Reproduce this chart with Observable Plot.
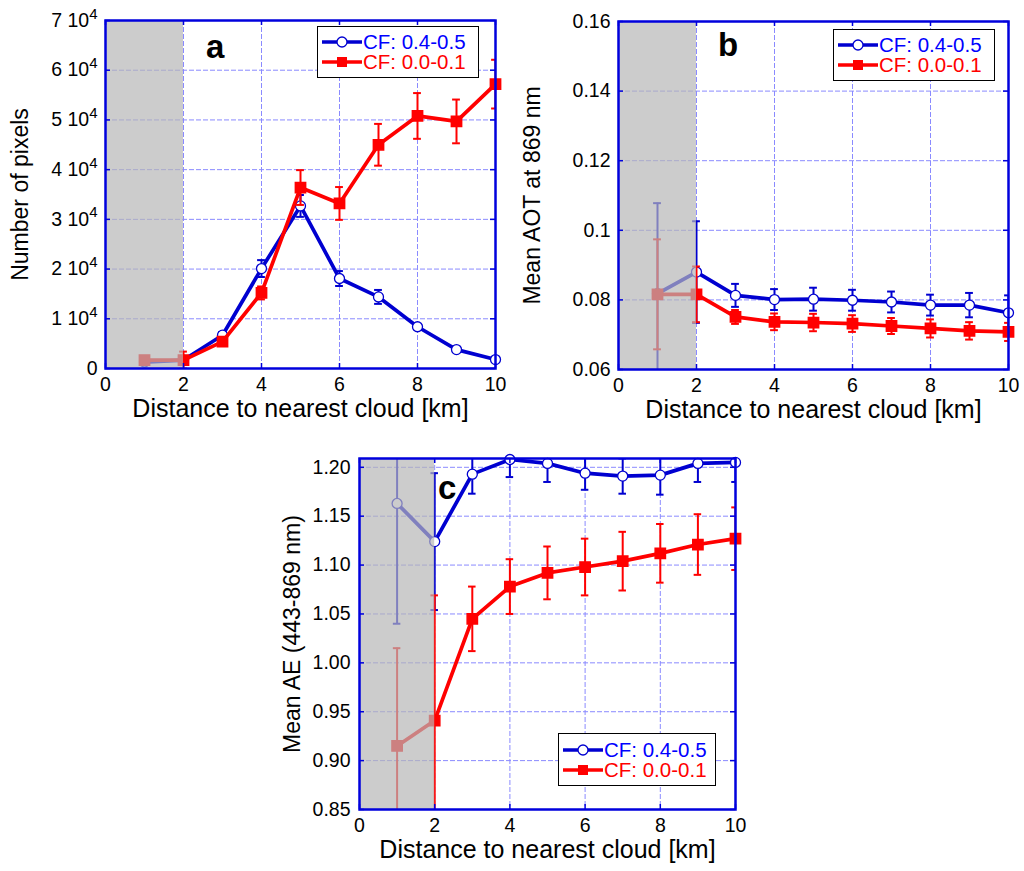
<!DOCTYPE html>
<html>
<head>
<meta charset="utf-8">
<script src="https://cdn.jsdelivr.net/npm/d3@7"></script>
<script src="https://cdn.jsdelivr.net/npm/@observablehq/plot@0.6"></script>
<style>
  html, body { margin: 0; padding: 0; background: #fff; }
  #page { position: relative; width: 1024px; height: 871px; font-family: "Liberation Sans", Arial, sans-serif; }
  .panel { position: absolute; }
  .panel svg { display: block; }
  .letter { position: absolute; font-weight: bold; font-size: 33px; line-height: 1; color: #000; }
  .legend { position: absolute; box-sizing: border-box; border: 1.5px solid #000; background: #fff;
            display: flex; flex-direction: column; justify-content: center; padding-left: 4px; }
  .legend-row { display: flex; align-items: center; height: 20px; line-height: 20px; font-size: 20.5px; }
  .legend-row svg { margin-right: 1px; }
</style>
</head>
<body>
<div id="page"></div>
<script>
// Distance to nearest cloud (km), shared x for all three panels
const distance = [1, 2, 3, 4, 5, 6, 7, 8, 9, 10];
const shaded = [{ from: 0, to: 2 }];
const xTicks = [0, 2, 4, 6, 8, 10];

const seriesNames = ["CF: 0.4-0.5", "CF: 0.0-0.1"];

// Panel a: number of pixels
const pixelsCloudy = [1300, 1700, 6700, 20100, 32700, 18100, 14400, 8400, 3800, 1800];
const pixelsCloudyErr = [300, 400, 600, 1700, 2200, 1500, 1400, 500, 300, 200];
const pixelsClear = [1700, 1700, 5400, 15200, 36400, 33200, 45000, 50800, 49700, 57200];
const pixelsClearErr = [400, 1700, 800, 1300, 3500, 3300, 4200, 4600, 4400, 4900];
const pixelsTicks = [0, 10000, 20000, 30000, 40000, 50000, 60000, 70000];

// Panel b: mean AOT at 869 nm
const aotCloudy = [0.0818, 0.0880, 0.0813, 0.0801, 0.0802, 0.0799, 0.0794, 0.0785, 0.0785, 0.0763];
const aotCloudyErr = [0.026, 0.0146, 0.0033, 0.003, 0.0033, 0.003, 0.003, 0.003, 0.0035, 0.005];
const aotClear = [0.0816, 0.0816, 0.0751, 0.0737, 0.0735, 0.0732, 0.0725, 0.0718, 0.0711, 0.0708];
const aotClearErr = [0.0158, 0.008, 0.002, 0.0024, 0.0025, 0.0024, 0.0023, 0.0026, 0.0025, 0.0026];
const aotTicks = [0.06, 0.08, 0.1, 0.12, 0.14, 0.16];

// Panel c: mean Angstrom exponent (443-869 nm)
const aeCloudy = [1.163, 1.124, 1.193, 1.208, 1.204, 1.194, 1.191, 1.192, 1.204, 1.205];
const aeCloudyErr = [0.123, 0.07, 0.02, 0.018, 0.019, 0.017, 0.018, 0.02, 0.019, 0.02];
const aeClear = [0.915, 0.941, 1.045, 1.078, 1.092, 1.098, 1.104, 1.112, 1.121, 1.127];
const aeClearErr = [0.1, 0.128, 0.033, 0.028, 0.027, 0.029, 0.03, 0.03, 0.031, 0.032];
const aeTicks = [0.85, 0.9, 0.95, 1.0, 1.05, 1.1, 1.15, 1.2];

const BLUE = "#0000d0";
const RED = "#ff0000";
const FRAME = "#0000dd";
const GRID = "#8a8aff";

function rowsOf(vals, errs) {
  return distance.map(function (x, i) {
    return { x: x, y: vals[i], lo: vals[i] - errs[i], hi: vals[i] + errs[i] };
  });
}

// one series = error bars + caps + line + markers
function seriesMarks(rows, color, symbol) {
  const capL = function (d) { return d.x - 0.1; };
  const capR = function (d) { return d.x + 0.1; };
  return [
    Plot.ruleX(rows, { x: "x", y1: "lo", y2: "hi", stroke: color, strokeWidth: 2, clip: true }),
    Plot.ruleY(rows, { y: "hi", x1: capL, x2: capR, stroke: color, strokeWidth: 2, clip: true }),
    Plot.ruleY(rows, { y: "lo", x1: capL, x2: capR, stroke: color, strokeWidth: 2, clip: true }),
    Plot.line(rows, { x: "x", y: "y", stroke: color, strokeWidth: 3.7 }),
    symbol === "circle"
      ? Plot.dot(rows, { x: "x", y: "y", r: 5, stroke: color, strokeWidth: 1.3, fill: "white" })
      : Plot.dot(rows, { x: "x", y: "y", r: 5.8, symbol: "square", fill: color, stroke: color })
  ];
}

function makePanel(cfg) {
  const m = cfg.margin;
  const fw = cfg.width - m.left - m.right;
  const fh = cfg.height - m.top - m.bottom;
  const cloudy = rowsOf(cfg.cloudy, cfg.cloudyErr);
  const clear = rowsOf(cfg.clear, cfg.clearErr);

  const svg = Plot.plot({
    width: cfg.width,
    height: cfg.height,
    marginLeft: m.left,
    marginRight: m.right,
    marginTop: m.top,
    marginBottom: m.bottom,
    style: { background: "transparent", color: "#000", fontFamily: "'Liberation Sans', Arial, sans-serif", overflow: "visible" },
    x: { domain: [0, 10] },
    y: { domain: cfg.yDomain },
    marks: [
      // dashed light-blue grid
      Plot.ruleX(xTicks, { stroke: GRID, strokeWidth: 1, strokeDasharray: "5,2" }),
      Plot.ruleY(cfg.yTicks, { stroke: GRID, strokeWidth: 1, strokeDasharray: "5,2" }),
      ...seriesMarks(cloudy, BLUE, "circle"),
      ...seriesMarks(clear, RED, "square"),
      // grey band over the first 2 km (data there fades under it)
      Plot.rect(shaded, { x1: "from", x2: "to", fill: "#b6b6b6", fillOpacity: 0.7 }),
      // inward ticks on all four sides
      Plot.ruleX(xTicks, { stroke: FRAME, strokeWidth: 1.5, insetTop: fh - 5 }),
      Plot.ruleX(xTicks, { stroke: FRAME, strokeWidth: 1.5, insetBottom: fh - 5 }),
      Plot.ruleY(cfg.yTicks, { stroke: FRAME, strokeWidth: 1.5, insetRight: fw - 5 }),
      Plot.ruleY(cfg.yTicks, { stroke: FRAME, strokeWidth: 1.5, insetLeft: fw - 5 }),
      Plot.frame({ stroke: FRAME, strokeWidth: 2.5 }),
      Plot.axisX(xTicks, { tickSize: 0, tickPadding: 9, fontSize: 19.5, label: null }),
      Plot.axisY(cfg.yTicks, { tickSize: 0, tickPadding: cfg.yPad, fontSize: 19.5, label: null, tickFormat: cfg.yFormat }),
      Plot.text(["Distance to nearest cloud [km]"], {
        text: function (d) { return d; }, frameAnchor: "bottom", lineAnchor: "middle", dy: 40, fontSize: 25
      }),
      Plot.text([cfg.yLabel], {
        text: function (d) { return d; }, frameAnchor: "left", textAnchor: "middle", lineAnchor: "middle",
        rotate: -90, dx: cfg.yLabelOffset, fontSize: 23
      })
    ]
  });

  // turn "n 10⁴" into a real raised exponent
  svg.querySelectorAll("text").forEach(function (t) {
    const s = t.textContent;
    if (s.indexOf("\u2074") >= 0) {
      t.textContent = s.replace("\u2074", "");
      const sup = document.createElementNS("http://www.w3.org/2000/svg", "tspan");
      sup.setAttribute("dy", "-0.55em");
      sup.setAttribute("font-size", "15");
      sup.textContent = "4";
      t.appendChild(sup);
    }
  });

  const div = document.createElement("div");
  div.className = "panel";
  div.style.left = cfg.left + "px";
  div.style.top = cfg.top + "px";
  div.style.width = cfg.width + "px";
  div.style.height = cfg.height + "px";
  div.appendChild(svg);

  const letter = document.createElement("div");
  letter.className = "letter";
  letter.textContent = cfg.letter;
  letter.style.left = cfg.letterPos[0] + "px";
  letter.style.top = cfg.letterPos[1] + "px";
  div.appendChild(letter);

  // legend box
  const lg = document.createElement("div");
  lg.className = "legend";
  lg.style.left = cfg.legendPos[0] + "px";
  lg.style.top = cfg.legendPos[1] + "px";
  lg.style.width = cfg.legendPos[2] + "px";
  lg.style.height = cfg.legendPos[3] + "px";
  [[BLUE, "circle", "#0000ff"], [RED, "square", RED]].forEach(function (s, i) {
    const row = document.createElement("div");
    row.className = "legend-row";
    const ns = "http://www.w3.org/2000/svg";
    const sw = document.createElementNS(ns, "svg");
    sw.setAttribute("width", 40);
    sw.setAttribute("height", 14);
    const ln = document.createElementNS(ns, "line");
    ln.setAttribute("x1", 0); ln.setAttribute("x2", 40);
    ln.setAttribute("y1", 7); ln.setAttribute("y2", 7);
    ln.setAttribute("stroke", s[0]); ln.setAttribute("stroke-width", 3.7);
    sw.appendChild(ln);
    let mk;
    if (s[1] === "circle") {
      mk = document.createElementNS(ns, "circle");
      mk.setAttribute("cx", 20); mk.setAttribute("cy", 7); mk.setAttribute("r", 5);
      mk.setAttribute("fill", "white"); mk.setAttribute("stroke", s[0]); mk.setAttribute("stroke-width", 1.3);
    } else {
      mk = document.createElementNS(ns, "rect");
      mk.setAttribute("x", 15); mk.setAttribute("y", 2); mk.setAttribute("width", 10); mk.setAttribute("height", 10);
      mk.setAttribute("fill", s[0]);
    }
    sw.appendChild(mk);
    row.appendChild(sw);
    const t = document.createElement("span");
    t.textContent = seriesNames[i];
    t.style.color = s[2];
    row.appendChild(t);
    lg.appendChild(row);
  });
  div.appendChild(lg);
  return div;
}

function fmtDecimal(d) { return String(+d.toFixed(2)); }
function fmtPow(d) { return d === 0 ? "0" : (d / 10000) + " 10\u2074"; }

const page = document.getElementById("page");

page.appendChild(makePanel({
  left: 0, top: 0, width: 512, height: 425,
  margin: { left: 105, right: 17, top: 20, bottom: 57 },
  yDomain: [0, 70000], yTicks: pixelsTicks, yFormat: fmtPow, yPad: 8,
  yLabel: "Number of pixels", yLabelOffset: -85,
  cloudy: pixelsCloudy, cloudyErr: pixelsCloudyErr, clear: pixelsClear, clearErr: pixelsClearErr,
  letter: "a", letterPos: [206, 30], legendPos: [317, 26, 162, 52]
}));

page.appendChild(makePanel({
  left: 512, top: 0, width: 512, height: 425,
  margin: { left: 106, right: 16, top: 21, bottom: 56 },
  yDomain: [0.06, 0.16], yTicks: aotTicks, yFormat: fmtDecimal, yPad: 8,
  yLabel: "Mean AOT at 869 nm", yLabelOffset: -86,
  cloudy: aotCloudy, cloudyErr: aotCloudyErr, clear: aotClear, clearErr: aotClearErr,
  letter: "b", letterPos: [206, 28], legendPos: [321, 29, 162, 52]
}));

page.appendChild(makePanel({
  left: 260, top: 440, width: 500, height: 431,
  margin: { left: 99, right: 25, top: 18, bottom: 62 },
  yDomain: [0.85, 1.209], yTicks: aeTicks, yFormat: function (d) { return d.toFixed(2); }, yPad: 9,
  yLabel: "Mean AE (443-869 nm)", yLabelOffset: -67,
  cloudy: aeCloudy, cloudyErr: aeCloudyErr, clear: aeClear, clearErr: aeClearErr,
  letter: "c", letterPos: [178, 31], legendPos: [298, 293, 158, 53]
}));
</script>
</body>
</html>
